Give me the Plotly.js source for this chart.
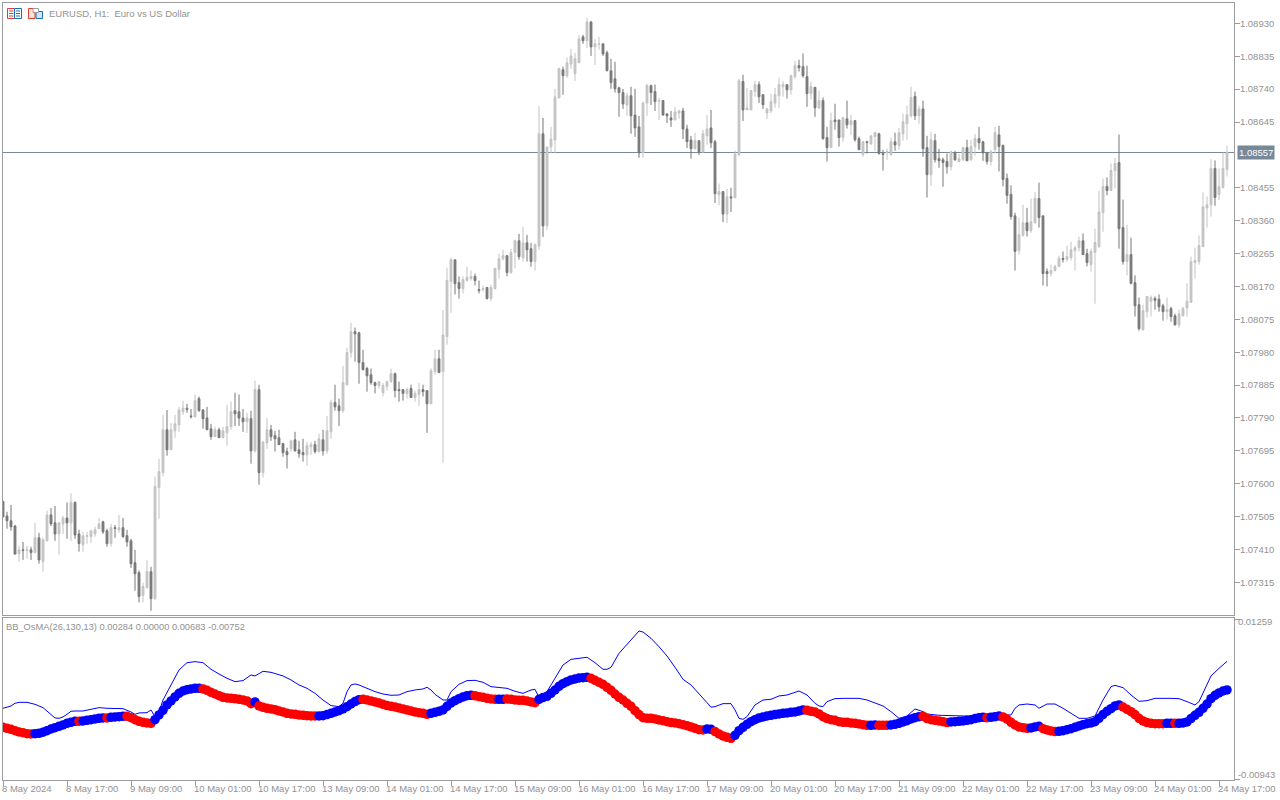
<!DOCTYPE html>
<html><head><meta charset="utf-8">
<script src="https://cdn.plot.ly/plotly-3.0.1.min.js"></script>
<style>html,body{margin:0;padding:0;background:#fff;overflow:hidden}#c{width:1280px;height:800px}</style>
</head><body><div id="c"></div>
<script>
// Prices are stored in points (0.00001) above 1.07000
const highs=[552,523,543,485,425,436,425,422,491,462,
448,526,534,540,491,511,549,575,552,471,
465,465,471,480,505,497,474,488,485,514,
505,471,445,413,353,318,384,364,624,675,
802,816,779,802,825,842,834,819,860,854,
819,825,776,768,765,768,831,840,865,860,
819,808,814,900,888,724,793,773,756,759,
721,707,730,753,727,733,724,724,727,747,
759,799,845,888,848,943,995,1067,1053,1041,
989,940,935,897,897,894,900,935,923,897,
874,880,888,871,894,888,871,935,989,989,
1104,1225,1254,1248,1200,1200,1228,1217,1208,1188,
1174,1168,1176,1225,1266,1277,1260,1280,1306,1323,
1344,1320,1297,1295,1691,1657,1573,1631,1740,1801,
1804,1830,1856,1844,1896,1896,1945,1936,1884,1890,
1870,1850,1827,1818,1746,1740,1729,1746,1740,1663,
1703,1755,1752,1752,1714,1706,1671,1677,1689,1680,
1686,1637,1605,1614,1593,1622,1665,1680,1593,1467,
1444,1452,1455,1562,1769,1781,1743,1737,1763,1761,
1723,1686,1726,1743,1772,1763,1752,1781,1821,1824,
1842,1807,1761,1746,1735,1715,1631,1672,1698,1651,
1660,1706,1666,1651,1603,1591,1591,1608,1617,1614,
1565,1568,1600,1614,1628,1669,1692,1746,1732,1692,
1706,1605,1617,1611,1568,1542,1554,1562,1562,1554,
1574,1594,1594,1611,1631,1591,1559,1565,1631,1634,
1580,1496,1462,1384,1370,1407,1398,1424,1442,1470,
1375,1223,1234,1234,1260,1272,1289,1300,1289,1315,
1324,1280,1280,1338,1447,1482,1485,1525,1542,1609,
1421,1349,1312,1203,1139,1119,1142,1145,1142,1148,
1122,1139,1113,1093,1105,1113,1180,1257,1283,1318,
1442,1430,1537,1534,1511,1557,1577];
const lows=[508,474,468,399,379,384,387,384,405,373,
350,439,482,439,399,459,445,439,445,408,
408,431,433,451,474,459,422,422,448,462,
448,422,361,295,261,261,301,238,269,503,
624,684,701,736,753,802,808,791,796,811,
762,759,730,739,736,736,713,759,770,770,
753,750,661,693,600,621,704,727,696,716,
681,647,696,696,678,667,655,687,690,693,
684,690,733,814,770,808,886,966,955,891,
929,868,888,863,877,854,871,894,851,839,
842,848,851,839,828,854,750,834,917,923,
664,1004,1096,1148,1136,1151,1185,1188,1174,1151,
1156,1133,1128,1162,1194,1246,1200,1208,1223,1248,
1243,1243,1228,1217,1277,1314,1334,1555,1555,1712,
1723,1772,1798,1763,1815,1870,1858,1835,1809,1853,
1835,1792,1740,1729,1660,1683,1663,1611,1602,1542,
1542,1663,1694,1677,1651,1665,1642,1631,1651,1654,
1596,1570,1539,1565,1550,1556,1579,1570,1412,1406,
1357,1354,1386,1426,1547,1648,1680,1680,1717,1700,
1683,1654,1671,1686,1686,1717,1712,1723,1769,1790,
1772,1689,1709,1660,1683,1594,1531,1571,1623,1574,
1588,1626,1608,1588,1565,1545,1554,1579,1562,1551,
1505,1536,1548,1562,1565,1591,1594,1657,1651,1640,
1545,1427,1461,1528,1513,1458,1496,1505,1533,1528,
1533,1533,1533,1548,1565,1533,1522,1519,1554,1502,
1459,1410,1364,1217,1263,1315,1315,1326,1352,1341,
1174,1171,1200,1214,1229,1240,1243,1246,1217,1272,
1263,1229,1214,1122,1283,1329,1433,1447,1453,1280,
1234,1203,1177,1085,1044,1044,1082,1085,1105,1099,
1073,1076,1070,1059,1053,1085,1085,1125,1194,1234,
1286,1341,1373,1404,1419,1453,1488];
const opens=[552,511,497,482,402,413,411,413,405,448,
379,439,514,491,459,488,505,491,549,459,
428,452,451,459,474,494,468,431,477,471,
477,454,439,376,347,281,304,350,272,592,
635,759,701,756,773,811,821,799,796,848,
816,793,762,739,759,736,750,768,814,811,
793,782,791,698,874,635,721,759,742,736,
719,696,704,730,701,693,687,710,716,696,
730,698,753,837,828,814,888,981,1041,1038,
952,935,917,894,886,865,883,897,920,874,
874,863,877,851,860,874,871,834,926,963,
926,1027,1185,1248,1182,1165,1188,1194,1200,1162,
1162,1168,1136,1165,1220,1251,1260,1211,1269,1303,
1254,1297,1280,1243,1288,1611,1346,1573,1593,1714,
1795,1778,1812,1784,1815,1890,1879,1933,1861,1868,
1870,1844,1792,1769,1743,1729,1694,1720,1665,1631,
1556,1700,1749,1732,1704,1706,1668,1657,1651,1671,
1677,1625,1593,1568,1591,1559,1605,1628,1588,1435,
1444,1380,1429,1426,1550,1761,1680,1680,1732,1752,
1723,1671,1677,1700,1720,1746,1752,1737,1775,1807,
1804,1775,1726,1744,1686,1706,1600,1571,1651,1651,
1600,1654,1637,1649,1597,1551,1588,1582,1603,1611,
1554,1556,1551,1588,1577,1611,1640,1663,1718,1663,
1683,1571,1493,1591,1539,1536,1531,1516,1556,1531,
1536,1571,1536,1574,1597,1588,1556,1531,1565,1608,
1577,1482,1436,1375,1275,1318,1355,1332,1355,1424,
1375,1214,1208,1217,1229,1252,1249,1254,1275,1283,
1303,1266,1234,1269,1286,1384,1459,1447,1505,1528,
1341,1243,1263,1182,1119,1047,1099,1128,1136,1134,
1116,1099,1108,1087,1061,1087,1110,1125,1240,1243,
1286,1398,1407,1511,1436,1456,1508];
const closes=[508,497,480,401,413,411,413,405,448,384,
442,514,488,459,491,505,491,549,456,431,
454,454,468,471,488,465,431,477,475,477,
451,436,373,344,278,307,350,272,595,638,
759,701,759,776,816,822,818,797,842,814,
791,759,739,759,736,756,768,811,805,793,
782,793,698,874,635,724,759,739,733,716,
693,687,727,698,690,687,713,716,696,733,
698,756,837,825,814,894,981,1041,1035,952,
932,914,894,886,897,886,897,920,871,871,
863,874,851,863,874,868,834,929,963,923,
1032,1188,1248,1179,1165,1191,1197,1200,1188,1159,
1165,1136,1168,1223,1251,1260,1211,1269,1303,1257,
1297,1277,1243,1292,1611,1346,1573,1596,1717,1798,
1778,1815,1835,1827,1884,1879,1933,1861,1870,1870,
1841,1792,1758,1740,1729,1697,1720,1663,1628,1556,
1700,1749,1729,1703,1706,1665,1663,1651,1674,1677,
1625,1588,1568,1591,1559,1611,1625,1585,1438,1444,
1380,1429,1426,1553,1763,1680,1686,1735,1752,1717,
1695,1683,1703,1723,1752,1752,1737,1778,1807,1801,
1778,1726,1746,1686,1706,1597,1571,1649,1646,1600,
1657,1637,1649,1594,1565,1588,1586,1605,1614,1554,
1551,1559,1588,1579,1614,1646,1666,1715,1663,1683,
1568,1493,1594,1536,1533,1528,1516,1559,1536,1539,
1571,1533,1574,1597,1585,1556,1531,1559,1614,1574,
1479,1433,1373,1272,1321,1355,1332,1358,1424,1370,
1208,1208,1217,1229,1252,1249,1257,1277,1283,1303,
1263,1240,1272,1298,1387,1459,1447,1505,1525,1338,
1243,1263,1180,1116,1050,1102,1142,1139,1131,1113,
1099,1105,1085,1061,1093,1108,1128,1243,1246,1289,
1401,1407,1511,1427,1459,1511,1557];
// OsMA values in 0.00001 units
const osma=[-225,-238,-252,-271,-289,-298,-312,-316,-312,-307,
-293,-271,-248,-229,-211,-193,-170,-156,-142,-142,
-137,-128,-119,-110,-101,-96,-96,-87,-82,-78,
-73,-73,-92,-119,-142,-156,-165,-170,-119,-55,
9,83,138,193,243,275,294,303,312,312,
303,285,257,234,211,188,179,174,170,161,
151,138,101,124,69,51,37,28,18,0,
-14,-32,-41,-46,-55,-59,-64,-69,-69,-69,
-64,-50,-32,-14,5,28,60,96,129,156,
161,151,138,124,110,92,74,64,55,41,
28,14,0,-14,-23,-32,-46,-32,-18,-4,
14,64,110,142,170,193,211,216,211,197,
188,174,165,161,161,161,165,161,151,147,
147,138,124,115,161,184,202,243,289,340,
376,404,427,440,454,459,463,450,422,395,
367,326,285,234,188,151,106,64,5,-50,
-92,-101,-101,-110,-124,-133,-147,-160,-165,-174,
-188,-202,-220,-238,-257,-261,-248,-252,-284,-316,
-344,-362,-376,-335,-271,-225,-183,-147,-119,-96,
-82,-69,-59,-50,-41,-32,-27,-18,-14,0,
14,9,-4,-14,-41,-78,-105,-119,-128,-147,
-156,-156,-165,-170,-179,-188,-197,-197,-193,-197,
-197,-197,-193,-183,-170,-151,-133,-110,-92,-78,
-73,-105,-119,-128,-137,-147,-160,-151,-147,-142,
-137,-128,-119,-105,-92,-87,-92,-87,-78,-69,
-82,-114,-156,-193,-220,-229,-238,-234,-220,-211,
-243,-261,-275,-284,-280,-271,-257,-243,-225,-206,
-188,-174,-165,-147,-101,-50,-4,32,69,83,
55,23,-9,-50,-101,-137,-160,-170,-174,-174,
-174,-170,-170,-170,-170,-165,-151,-105,-59,-18,
37,96,170,216,248,275,290];
// Bars on which the OsMA dot is red (falling); all others are blue
const redRuns=[[0,7],[19,19],[26,26],[31,37],[50,62],[64,78],[90,106],[118,123],[126,133],[147,175],[178,182],[201,216],[219,221],[230,236],[246,246],[250,256],[260,263],[280,290],[293,293]];
// Upper band: bars and values in 0.00001 units
const bandBars=[0,2,3,4,6,8,10,12,13,14,15,16,17,18,20,22,24,26,28,30,32,33,34,36,37,38,39,40,42,44,46,48,50,52,54,56,58,60,62,63,65,67,70,72,74,76,78,80,82,84,85,86,87,88,89,91,93,95,97,99,101,103,104,
105,106,107,108,109,110,111,112,114,116,118,120,122,124,126,128,130,132,133,134,136,138,140,142,144,146,148,150,151,152,154,156,158,159,160,162,164,166,168,170,172,174,176,177,178,180,182,183,184,185,186,188,190,192,194,196,198,199,201,203,204,205,206,208,210,
212,214,216,218,220,222,224,226,228,230,231,234,238,242,246,248,250,252,253,254,256,258,259,261,263,265,267,269,271,273,275,277,278,280,282,284,286,288,292,294,296,298,299,301,302,304,306];
const bandVals=[37,69,106,119,119,92,46,-55,-96,-101,-82,-46,-4,0,0,23,46,37,37,32,-14,-46,-27,-23,14,-78,-9,151,358,564,665,679,665,574,509,450,404,418,496,482,546,532,482,427,358,312,243,151,74,60,106,266,358,372,358,312,266,234,216,220,266,289,298,
303,326,289,229,188,151,151,266,367,418,422,395,335,326,312,271,243,289,298,188,266,450,633,711,725,739,665,574,574,601,794,922,1046,1101,1087,1000,885,757,601,436,358,243,115,51,60,101,101,14,-101,-115,-78,83,151,161,207,220,262,275,220,106,69,60,129,170,174,
170,174,151,106,69,-9,-101,-69,28,-9,-41,-59,-64,-69,-78,-69,-55,-55,37,83,96,83,37,96,96,37,-32,-101,-101,-69,151,335,353,321,220,133,142,174,174,170,129,83,129,381,482,587,683];
const priceTicks=[1.08930,1.08835,1.08740,1.08645,1.08455,1.08360,1.08265,1.08170,1.08075,1.07980,1.07885,1.07790,1.07695,1.07600,1.07505,1.07410,1.07315];
const lastPrice=1.08557;
const oscTop=0.01259, oscBottom=-0.00943;
const xTickBars=[0,16,32,48,64,80,96,112,128,144,160,176,192,208,224,240,256,272,288,304];
const xTickLabels=["8 May 2024","8 May 17:00","9 May 09:00","10 May 01:00","10 May 17:00","13 May 09:00","14 May 01:00","14 May 17:00","15 May 09:00","16 May 01:00","16 May 17:00","17 May 09:00","20 May 01:00","20 May 17:00","21 May 09:00","22 May 01:00","22 May 17:00","23 May 09:00","24 May 01:00","24 May 17:00"];

// Readings were taken against a scale 0.347% off the price axis; corrected here around the last price
const scaleFix=1.00347;
const price=a=>a.map(v=>+(lastPrice+(1.07+v/1e5-lastPrice)*scaleFix).toFixed(5));
const bars=highs.map((_,i)=>i);
const isRed=i=>redRuns.some(r=>i>=r[0]&&i<=r[1]);
const W=1280,H=800,L=3,R=46,T=3,B=20;
const px=x=>(x-L)/(W-L-R), py=y=>1-(y-T)/(H-T-B);
const grey='#9c9ca0', txt='#929292', F='Liberation Sans, Arial, sans-serif';
const xr=[0,307.75];
const rect=(x0,y0,x1,y1,c,f)=>({type:'rect',xref:'paper',yref:'paper',x0:px(x0),x1:px(x1),y0:py(y0),y1:py(y1),line:{color:c,width:1},fillcolor:f||'rgba(0,0,0,0)'});
const ln=(x0,y0,x1,y1,c)=>({type:'line',xref:'paper',yref:'paper',x0:px(x0),x1:px(x1),y0:py(y0),y1:py(y1),line:{color:c,width:1}});
const RD='#e03c31',BL='#1a6fb5';

const traces=[
 {type:'candlestick',x:bars,open:price(opens),high:price(highs),low:price(lows),close:price(closes),xaxis:'x',yaxis:'y',
  increasing:{line:{color:'#c3c3c3',width:1},fillcolor:'#c3c3c3'},
  decreasing:{line:{color:'#777777',width:1},fillcolor:'#777777'},whiskerwidth:0,hoverinfo:'skip'},
 {type:'scatter',mode:'lines',x:bandBars,y:bandVals.map(v=>v/1e5),xaxis:'x2',yaxis:'y2',line:{color:'#0000ff',width:1},hoverinfo:'skip'},
 {type:'scatter',mode:'markers',x:bars,y:osma.map(v=>v/1e5),xaxis:'x2',yaxis:'y3',
  marker:{size:9.5,color:bars.map(i=>isRed(i)?'#ff0000':'#0000ff'),line:{width:0}},hoverinfo:'skip'}
];
const yr2=[-0.00950,0.01280];
const axf={family:F,size:9.5,color:txt};
const layout={
 width:W,height:H,margin:{l:L,r:R,t:T,b:B,pad:0},paper_bgcolor:'#fff',plot_bgcolor:'#fff',showlegend:false,font:axf,boxgap:0.35,
 xaxis:{domain:[0,1],range:xr,anchor:'y',rangeslider:{visible:false},showgrid:false,zeroline:false,showticklabels:false,ticks:'',showline:true,mirror:true,linecolor:grey,linewidth:1},
 yaxis:{domain:[0.21236,1],range:[1.072208,1.089889],anchor:'x',side:'right',showgrid:false,zeroline:false,tickmode:'array',tickvals:priceTicks,ticktext:priceTicks.map(v=>v.toFixed(5)),ticks:'outside',ticklen:5,tickcolor:grey,tickfont:axf,ticklabelstandoff:-2,showline:true,mirror:true,linecolor:grey,linewidth:1},
 xaxis2:{domain:[0,1],range:xr,anchor:'y2',showgrid:false,zeroline:false,tickmode:'array',tickvals:xTickBars,ticktext:xTickLabels,ticks:'outside',ticklen:5,tickcolor:grey,tickfont:axf,tickangle:0,ticklabelposition:'outside right',ticklabeloverflow:'allow',ticklabelshift:-2,showline:true,mirror:true,linecolor:grey,linewidth:1},
 yaxis2:{domain:[0,0.2085],range:yr2,anchor:'x2',side:'right',showgrid:false,zeroline:false,tickmode:'array',tickvals:[oscTop],ticktext:[oscTop.toFixed(5)],ticks:'outside',ticklen:5,tickcolor:grey,tickfont:axf,ticklabelposition:'outside bottom',ticklabelshift:-5,ticklabelstandoff:1,ticklabeloverflow:'allow',showline:true,mirror:true,linecolor:grey,linewidth:1},
 yaxis3:{domain:[0,0.2085],range:yr2,anchor:'x2',overlaying:'y2',side:'right',showgrid:false,zeroline:false,tickmode:'array',tickvals:[oscBottom],ticktext:[oscBottom.toFixed(5)],ticks:'outside',ticklen:5,tickcolor:grey,tickfont:axf,ticklabelposition:'outside top',ticklabelshift:2,ticklabelstandoff:1,ticklabeloverflow:'allow',showline:false},
 shapes:[
  {type:'line',xref:'paper',yref:'y',x0:0,x1:1,y0:lastPrice,y1:lastPrice,line:{color:'#778899',width:1},layer:'below'},
  rect(7.5,8.5,14.5,18.5,RD,'#ffffff'),rect(14.5,8.5,21.5,18.5,BL,'#ffffff'),
  ln(9,11,13.5,11,RD),ln(9,13.5,13.5,13.5,RD),ln(9,16,13.5,16,RD),ln(16,11,20,11,BL),ln(16,13.5,20,13.5,BL),ln(16,16,20,16,BL),
  rect(28.5,8.5,35,18.5,RD,'#fde0d8'),rect(36,11.5,42.5,18.5,BL,'#cfe6f7'),rect(33,8.5,38.5,12.5,grey,'#ffffff')
 ],
 annotations:[
  {xref:'paper',yref:'paper',x:px(48),y:py(13.5),xanchor:'left',yanchor:'middle',text:'EURUSD, H1:  Euro vs US Dollar',showarrow:false,font:{family:F,size:9.5,color:txt},borderpad:0},
  {xref:'paper',yref:'paper',x:px(5),y:py(626.5),xanchor:'left',yanchor:'middle',text:'BB_OsMA(26,130,13) 0.00284 0.00000 0.00683 -0.00752',showarrow:false,font:{family:F,size:9.3,color:txt},borderpad:0},
  {xref:'paper',yref:'y',x:px(1237),y:lastPrice,xanchor:'left',yanchor:'middle',text:lastPrice.toFixed(5),showarrow:false,font:{family:F,size:9.5,color:'#ffffff'},bgcolor:'#778899',borderpad:1}
 ]
};
Plotly.newPlot('c',traces,layout,{staticPlot:true,displayModeBar:false});
</script></body></html>
